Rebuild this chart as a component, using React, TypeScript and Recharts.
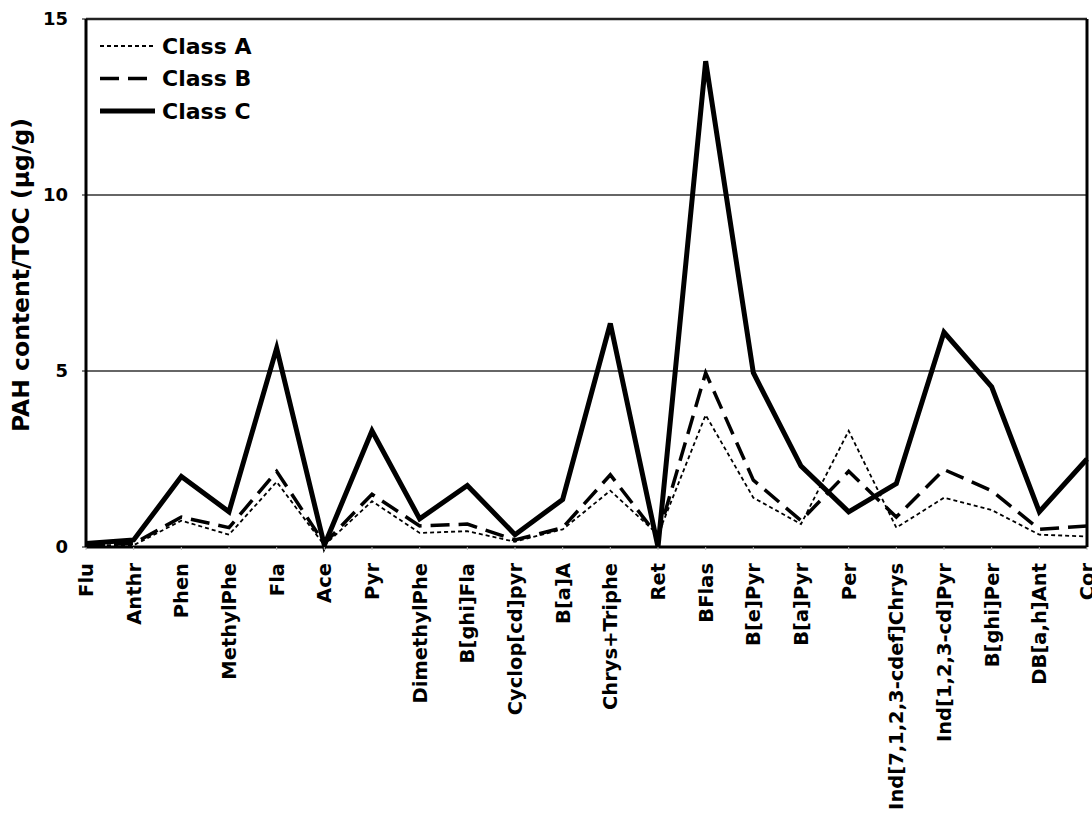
import React from "react";
import { CartesianGrid, Legend, Line, LineChart, ReferenceLine, XAxis, YAxis } from "recharts";

const compounds = [
  "Flu", "Anthr", "Phen", "MethylPhe", "Fla", "Ace", "Pyr", "DimethylPhe", "B[ghi]Fla",
  "Cyclop[cd]pyr", "B[a]A", "Chrys+Triphe", "Ret", "BFlas", "B[e]Pyr", "B[a]Pyr", "Per",
  "Ind[7,1,2,3-cdef]Chrys", "Ind[1,2,3-cd]Pyr", "B[ghi]Per", "DB[a,h]Ant", "Cor",
];

const classA = [0.05, 0.05, 0.75, 0.35, 1.85, 0.05, 1.3, 0.4, 0.45, 0.15, 0.5, 1.6, 0.35, 3.75, 1.4, 0.65, 3.3, 0.55, 1.4, 1.05, 0.35, 0.3];
const classB = [0.05, 0.1, 0.85, 0.55, 2.15, 0.1, 1.5, 0.6, 0.65, 0.2, 0.55, 2.05, 0.3, 4.95, 1.9, 0.75, 2.15, 0.85, 2.2, 1.6, 0.5, 0.6];
const classC = [0.1, 0.2, 2.0, 1.0, 5.65, 0.05, 3.3, 0.8, 1.75, 0.35, 1.35, 6.35, 0.0, 13.8, 4.95, 2.3, 1.0, 1.8, 6.1, 4.55, 1.0, 2.5];

const yTicks = [0, 5, 10, 15];

const FONT = "'DejaVu Sans', Verdana, sans-serif";

const series = [
  { key: "a", name: "Class A", width: 1.8, dash: "4 3" },
  { key: "b", name: "Class B", width: 3.5, dash: "19 9" },
  { key: "c", name: "Class C", width: 5, dash: undefined as string | undefined },
];

const data = compounds.map((name, i) => ({ name, a: classA[i], b: classB[i], c: classC[i] }));

function CompoundTick({ x, y, payload }: any) {
  return (
    <text
      transform={`translate(${x}, ${y + 11}) rotate(-90)`}
      textAnchor="end"
      dy="0.36em"
      fontFamily={FONT}
      fontWeight="bold"
      fontSize={19.5}
      fill="#000"
    >
      {payload.value}
    </text>
  );
}

function YTitle({ viewBox }: any) {
  const cx = viewBox.x + 29;
  const cy = viewBox.y + viewBox.height / 2 - 8;
  return (
    <text
      transform={`translate(${cx}, ${cy}) rotate(-90)`}
      textAnchor="middle"
      fontFamily={FONT}
      fontWeight="bold"
      fontSize={23.5}
      fill="#000"
    >
      PAH content/TOC (µg/g)
    </text>
  );
}

function ClassLegend() {
  return (
    <svg width={220} height={100} style={{ display: "block" }}>
      {series.map((s, i) => {
        const y = 18 + i * 32.5;
        return (
          <g key={s.key}>
            <line x1={5} x2={60} y1={y} y2={y} stroke="#000" strokeWidth={s.width} strokeDasharray={s.dash} />
            <text x={67} y={y} dy="0.36em" fontFamily={FONT} fontWeight="bold" fontSize={22} fill="#000">
              {s.name}
            </text>
          </g>
        );
      })}
    </svg>
  );
}

export default function App() {
  return (
    <div style={{ position: "absolute", left: 0, top: 0, background: "#fff" }}>
      <LineChart width={1092} height={821} data={data} margin={{ top: 19, right: 5, bottom: 0, left: 0 }}>
        <CartesianGrid vertical={false} stroke="#333" strokeWidth={1.5} />
        <XAxis
          dataKey="name"
          interval={0}
          height={274}
          tick={<CompoundTick />}
          tickLine={{ stroke: "#bbb" }}
          tickSize={3}
          axisLine={{ stroke: "#000", strokeWidth: 3 }}
        />
        <YAxis
          domain={[0, 15]}
          ticks={yTicks}
          width={86}
          tickSize={4}
          tickMargin={14}
          tickLine={{ stroke: "#000" }}
          axisLine={{ stroke: "#000", strokeWidth: 3 }}
          tick={{ fontFamily: FONT, fontWeight: "bold", fontSize: 18, fill: "#000" }}
          label={<YTitle />}
        />
        <ReferenceLine y={15} stroke="#222" strokeWidth={2.5} />
        <ReferenceLine x="Cor" stroke="#000" strokeWidth={3} />
        <Legend
          layout="horizontal"
          verticalAlign="middle"
          align="center"
          content={<ClassLegend />}
          wrapperStyle={{ left: 95, top: 28, width: 220 }}
        />
        {series.map((s) => (
          <Line
            key={s.key}
            dataKey={s.key}
            name={s.name}
            stroke="#000"
            strokeWidth={s.width}
            strokeDasharray={s.dash}
            strokeLinejoin="miter"
            dot={false}
            activeDot={false}
            isAnimationActive={false}
          />
        ))}
      </LineChart>
    </div>
  );
}
